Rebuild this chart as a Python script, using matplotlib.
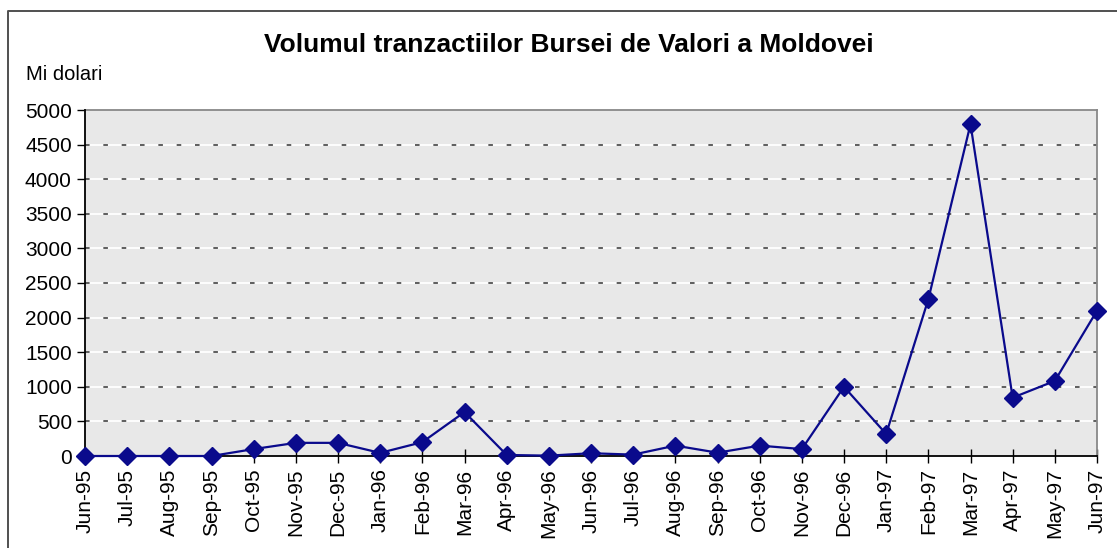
import matplotlib.pyplot as plt
from matplotlib.lines import Line2D

plt.rcParams['font.family'] = ['Liberation Sans', 'DejaVu Sans']

luni = ["Jun-95", "Jul-95", "Aug-95", "Sep-95", "Oct-95", "Nov-95", "Dec-95",
        "Jan-96", "Feb-96", "Mar-96", "Apr-96", "May-96", "Jun-96", "Jul-96",
        "Aug-96", "Sep-96", "Oct-96", "Nov-96", "Dec-96", "Jan-97", "Feb-97",
        "Mar-97", "Apr-97", "May-97", "Jun-97"]
volum = [0, 0, 0, 0, 100, 190, 190, 45, 200, 635, 15, 5, 40, 20,
         150, 48, 150, 100, 1000, 318, 2265, 4795, 843, 1085, 2100]
y_ticks = [0, 500, 1000, 1500, 2000, 2500, 3000, 3500, 4000, 4500, 5000]

fig = plt.figure(figsize=(11.17, 5.48), dpi=100)
ax = fig.add_axes([85/1117, 1-456/548, 1012/1117, 346/548])

# outer frame of the chart (only top and left are visible)
fx, fy = 7.5/1117, 1-10.5/548
fig.lines.append(Line2D([fx, fx, 1.01], [-0.01, fy, fy], transform=fig.transFigure,
                        color="#505050", linewidth=1.4))

ax.set_facecolor("#e8e8e8")
x = list(range(len(luni)))

# excel style grid: white line with dark dashes
for v in y_ticks[1:-1]:
    ax.axhline(v, color="white", linewidth=1.3, zorder=1)
    ax.axhline(v, color="#333333", linewidth=1.1, dashes=(3, 9), zorder=1.5)

ax.plot(x, volum, color="#0a0a8c", linewidth=1.6, marker="D", markersize=9,
        zorder=5, clip_on=False)

ax.set_xlim(0, len(luni) - 1)
ax.set_ylim(0, 5000)
ax.set_xticks(x)
ax.set_xticklabels(luni, rotation=90, fontsize=15)
ax.set_yticks(y_ticks)
ax.set_yticklabels([str(v) for v in y_ticks], fontsize=15)
ax.tick_params(axis="y", direction="out", length=6, width=1, color="black")
ax.tick_params(axis="x", direction="inout", length=10, width=1, color="black", pad=4)

for side in ["top", "right"]:
    ax.spines[side].set_color("#888888")
    ax.spines[side].set_linewidth(1.3)
for side in ["left", "bottom"]:
    ax.spines[side].set_color("black")
    ax.spines[side].set_zorder(4)
    ax.spines[side].set_linewidth(1.3)

fig.text(569/1117, 1-45/548, "Volumul tranzactiilor Bursei de Valori a Moldovei",
         ha="center", va="center", fontsize=19, fontweight="bold")
fig.text(26/1117, 1-74/548, "Mi dolari", ha="left", va="center", fontsize=14.5)

fig.savefig("out.png", dpi=100)
